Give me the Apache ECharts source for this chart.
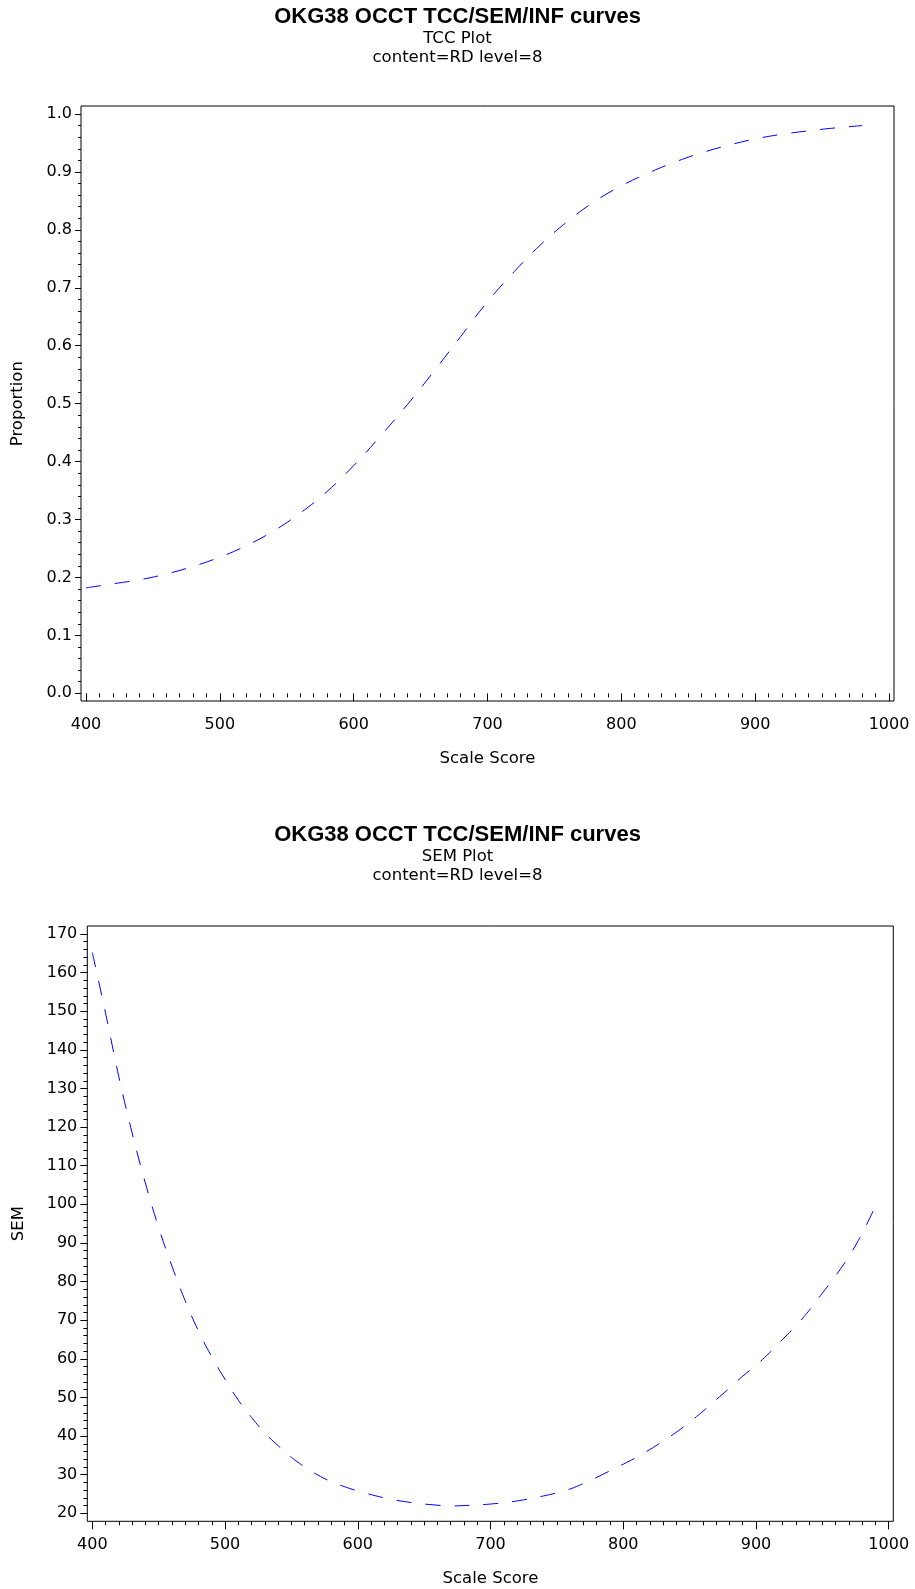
<!DOCTYPE html>
<html>
<head>
<meta charset="utf-8">
<script src="https://cdn.jsdelivr.net/npm/echarts@6/dist/echarts.min.js"></script>
<style>
html,body{margin:0;padding:0;background:#fff;}
#c{width:915px;height:1589px;}
</style>
</head>
<body>
<div id="c"></div>
<script>
// ---- data ----
var mainTitle = 'OKG38 OCCT TCC/SEM/INF curves';
var subTitleTop = 'TCC Plot';
var subTitleBottom = 'SEM Plot';
var contentLine = 'content=RD level=8';

var tccScores = [400,420,440,460,480,500,520,540,560,580,600,620,640,660,680,700,720,740,760,780,800,820,840,860,880,900,920,940,960,980];
var tccValues = [0.182,0.189,0.196,0.206,0.219,0.235,0.255,0.280,0.311,0.348,0.393,0.444,0.498,0.556,0.616,0.676,0.728,0.775,0.815,0.849,0.876,0.898,0.917,0.933,0.946,0.957,0.965,0.971,0.976,0.980];

var semScores = [400,410,420,430,440,450,460,470,480,490,500,510,520,530,540,550,560,570,580,590,600,620,640,660,670,680,700,720,740,750,760,770,780,790,800,810,820,830,840,850,860,870,880,890,900,910,920,930,940,950,960,970,980,990];
var semValues = [165.2,149.5,133.0,118.5,105.5,94.0,84.0,75.0,67.2,60.5,54.7,49.3,44.8,40.8,37.5,34.5,32.0,29.9,28.2,26.9,25.8,24.0,22.8,22.1,21.9,22.0,22.4,23.2,24.5,25.3,26.3,27.7,29.3,31.0,32.7,34.5,36.5,38.7,41.0,43.6,46.4,49.4,52.4,55.5,58.3,61.5,65.0,68.5,72.5,77.0,81.5,86.5,92.5,99.5];

var fontTxt = 'DejaVu Sans';
var blue = '#0000ff';

function pairs(xs, ys){ var out=[]; for(var i=0;i<xs.length;i++){ out.push([xs[i], ys[i]]); } return out; }
function frameGrid(l,t,w,h){ return {left:l, top:t, width:w, height:h, show:true, borderColor:'#000', borderWidth:1, backgroundColor:'transparent'}; }

function dataX(grid, offset, margin){
  return {gridIndex:grid, type:'value', min:400, max:1000, interval:100, position:'bottom', offset:offset,
    axisLine:{show:false},
    axisTick:{show:true, length:8, lineStyle:{color:'#000', width:1}},
    minorTick:{show:true, splitNumber:10, length:4, lineStyle:{color:'#000', width:1}},
    splitLine:{show:false},
    axisLabel:{margin:margin, fontFamily:fontTxt, fontSize:16, color:'#000', formatter:function(v){return String(v);}},
    name:'Scale Score', nameLocation:'middle', nameGap:49,
    nameTextStyle:{fontFamily:fontTxt, fontSize:16.5, color:'#000'}};
}

var option = {
  backgroundColor:'#fff',
  animation:false,
  title:[
    {text:mainTitle, left:'center', top:6, padding:0, textStyle:{fontFamily:'Liberation Sans', fontWeight:'bold', fontSize:22, color:'#000'}},
    {text:subTitleTop, left:'center', top:30, padding:0, textStyle:{fontFamily:fontTxt, fontWeight:'normal', fontSize:16.5, color:'#000'}},
    {text:contentLine, left:'center', top:49, padding:0, textStyle:{fontFamily:fontTxt, fontWeight:'normal', fontSize:16.5, color:'#000'}},
    {text:mainTitle, left:'center', top:824, padding:0, textStyle:{fontFamily:'Liberation Sans', fontWeight:'bold', fontSize:22, color:'#000'}},
    {text:subTitleBottom, left:'center', top:848, padding:0, textStyle:{fontFamily:fontTxt, fontWeight:'normal', fontSize:16.5, color:'#000'}},
    {text:contentLine, left:'center', top:867, padding:0, textStyle:{fontFamily:fontTxt, fontWeight:'normal', fontSize:16.5, color:'#000'}}
  ],
  grid:[
    frameGrid(81,106,813,595),
    {left:86, top:114, width:803, height:579.3, show:false},
    frameGrid(87.3,926,806,595.3),
    {left:92.3, top:934, width:796.4, height:579.3, show:false}
  ],
  xAxis:[
    {gridIndex:0, type:'value', min:0, max:1, show:false},
    dataX(1, 7.7, 16),
    {gridIndex:2, type:'value', min:0, max:1, show:false},
    dataX(3, 8, 16)
  ],
  yAxis:[
    {gridIndex:0, type:'value', min:0, max:1, show:false},
    {gridIndex:1, type:'value', min:0, max:1, interval:0.1, position:'left', offset:5,
     axisLine:{show:false},
     axisTick:{show:true, length:6, lineStyle:{color:'#000', width:1}},
     minorTick:{show:true, splitNumber:5, length:3, lineStyle:{color:'#000', width:1}},
     splitLine:{show:false},
     axisLabel:{margin:9, fontFamily:fontTxt, fontSize:16, color:'#000', formatter:function(v){return v.toFixed(1);}},
     name:'Proportion', nameLocation:'middle', nameGap:55,
     nameTextStyle:{fontFamily:fontTxt, fontSize:16.5, color:'#000'}},
    {gridIndex:2, type:'value', min:0, max:1, show:false},
    {gridIndex:3, type:'value', min:20, max:170, interval:10, position:'left', offset:5,
     axisLine:{show:false},
     axisTick:{show:true, length:7, lineStyle:{color:'#000', width:1}},
     minorTick:{show:true, splitNumber:5, length:4, lineStyle:{color:'#000', width:1}},
     splitLine:{show:false},
     axisLabel:{margin:10, fontFamily:fontTxt, fontSize:16, color:'#000'},
     name:'SEM', nameLocation:'middle', nameGap:60,
     nameTextStyle:{fontFamily:fontTxt, fontSize:16.5, color:'#000'}}
  ],
  series:[
    {type:'line', xAxisIndex:1, yAxisIndex:1, data:pairs(tccScores, tccValues), smooth:0.4, showSymbol:false,
     lineStyle:{color:blue, width:1, type:[15,14]}},
    {type:'line', xAxisIndex:3, yAxisIndex:3, data:pairs(semScores, semValues), smooth:0.4, showSymbol:false,
     lineStyle:{color:blue, width:1, type:[15,14]}}
  ]
};

var chart = echarts.init(document.getElementById('c'), null, {renderer:'canvas'});
chart.setOption(option);
</script>
</body>
</html>
